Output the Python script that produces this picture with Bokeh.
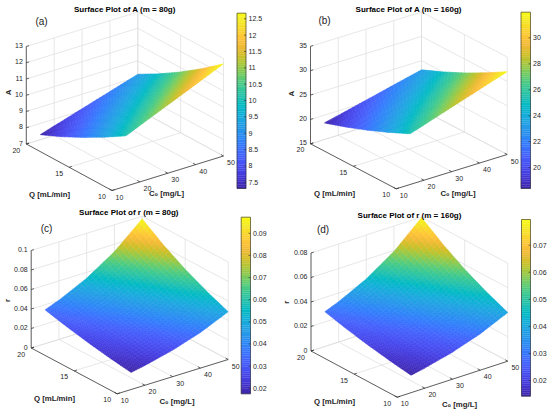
import numpy as np
from bokeh.plotting import figure
from bokeh.models import Range1d
from bokeh.embed import file_html
from bokeh.resources import INLINE
from bokeh.core.properties import value

# ---------------- data ----------------
C0_VALUES = [15, 20, 30, 40, 50]          # C0 [mg/L] grid
Q_VALUES = [10, 12.5, 15, 17.5, 20]        # Q [mL/min] grid

# rows follow Q_VALUES, columns follow C0_VALUES
A_M80 = [
    [10.10, 10.47, 11.20, 11.93, 12.67],
    [9.30, 9.64, 10.31, 10.98, 11.66],
    [8.57, 8.88, 9.50, 10.12, 10.74],
    [7.90, 8.19, 8.76, 9.34, 9.91],
    [7.31, 7.58, 8.11, 8.64, 9.17],
]
A_M160 = [
    [25.40, 26.34, 28.22, 30.10, 31.98],
    [23.38, 24.25, 25.98, 27.71, 29.44],
    [21.54, 22.34, 23.93, 25.52, 27.12],
    [19.87, 20.61, 22.08, 23.55, 25.02],
    [18.39, 19.07, 20.43, 21.79, 23.15],
]
R_M80 = [
    [0.01750, 0.02027, 0.02721, 0.03652, 0.04900],
    [0.02077, 0.02407, 0.03230, 0.04335, 0.05816],
    [0.02466, 0.02856, 0.03833, 0.05145, 0.06904],
    [0.02927, 0.03390, 0.04550, 0.06106, 0.08194],
    [0.03474, 0.04024, 0.05401, 0.07248, 0.09727],
]
R_M160 = [
    [0.01420, 0.01645, 0.02208, 0.02963, 0.03976],
    [0.01689, 0.01956, 0.02625, 0.03524, 0.04728],
    [0.02008, 0.02327, 0.03122, 0.04190, 0.05623],
    [0.02388, 0.02767, 0.03713, 0.04983, 0.06687],
    [0.02840, 0.03290, 0.04415, 0.05926, 0.07952],
]

C0_LIM = [10, 50]
Q_LIM = [10, 20]
C0_TICKS = [10, 20, 30, 40, 50]
Q_TICKS = [10, 15, 20]

Z_TICKS_A80 = [7, 8, 9, 10, 11, 12, 13]
Z_TICKS_A160 = [15, 20, 25, 30, 35]
Z_TICKS_R80 = [0, 0.02, 0.04, 0.06, 0.08, 0.1]
Z_TICKS_R160 = [0, 0.02, 0.04, 0.06, 0.08]

CB_TICKS_A80 = [7.5, 8, 8.5, 9, 9.5, 10, 10.5, 11, 11.5, 12, 12.5]
CB_TICKS_A160 = [20, 22, 24, 26, 28, 30]
CB_TICKS_R80 = [0.02, 0.03, 0.04, 0.05, 0.06, 0.07, 0.08, 0.09]
CB_TICKS_R160 = [0.02, 0.03, 0.04, 0.05, 0.06, 0.07]

TITLES = ["Surface Plot of A (m = 80g)", "Surface Plot of A (m = 160g)",
          "Surface Plot of r (m = 80g)", "Surface Plot of r (m = 160g)"]
PANEL_TAGS = ["(a)", "(b)", "(c)", "(d)"]
Z_NAMES = ["A", "A", "r", "r"]
Q_NAME = "Q [mL/min]"
C0_NAME = "C\u2080 [mg/L]"

# ---------------- parula colormap (original MATLAB version) ----------------
PARULA = [
    (0.2422, 0.1504, 0.6603), (0.2647, 0.1978, 0.7952), (0.2783, 0.2559, 0.8991),
    (0.2810, 0.3228, 0.9579), (0.2699, 0.3892, 0.9906), (0.2206, 0.4603, 0.9973),
    (0.1786, 0.5289, 0.9682), (0.1540, 0.5902, 0.9218), (0.1248, 0.6459, 0.8883),
    (0.0689, 0.6948, 0.8394), (0.0067, 0.7312, 0.7660), (0.1408, 0.7584, 0.6842),
    (0.2161, 0.7843, 0.5923), (0.3406, 0.8008, 0.4789), (0.5044, 0.7993, 0.3480),
    (0.6720, 0.7793, 0.2227), (0.8203, 0.7498, 0.1535), (0.9393, 0.7288, 0.2100),
    (0.9970, 0.7659, 0.2199), (0.9786, 0.8386, 0.1766), (0.9597, 0.9135, 0.1423),
    (0.9769, 0.9839, 0.0805),
]


def parula(t):
    t = min(max(float(t), 0.0), 1.0)
    pos = t * (len(PARULA) - 1)
    i = min(int(pos), len(PARULA) - 2)
    f = pos - i
    c = [PARULA[i][k] * (1 - f) + PARULA[i + 1][k] * f for k in range(3)]
    return "#%02x%02x%02x" % tuple(int(round(255 * x)) for x in c)


# ---------------- layout of the four panels (screen pixels) ----------------
PANELS = [
    dict(Z=A_M80, zlim=(7, 13), zt=Z_TICKS_A80, cbt=CB_TICKS_A80,
         F=(111.5, 190.0), L=(25.8, 143.5), R=(223.0, 155.5), H=97.5,
         cb=(236.5, 245.5, 12.7, 188.0), title_xy=(124.5, 8.5), tag_xy=(41, 21.3),
         zname_xy=(7.5, 92), qname_xy=(49, 193.7), cname_xy=(166, 193.0)),
    dict(Z=A_M160, zlim=(15, 35), zt=Z_TICKS_A160, cbt=CB_TICKS_A160,
         F=(395.7, 188.3), L=(310.0, 143.3), R=(506.7, 154.0), H=97.5,
         cb=(520.5, 530.0, 11.7, 188.0), title_xy=(408.3, 8.5), tag_xy=(324, 20.0),
         zname_xy=(290.7, 93.3), qname_xy=(334, 192.5), cname_xy=(457.5, 193.3)),
    dict(Z=R_M80, zlim=(0, 0.1), zt=Z_TICKS_R80, cbt=CB_TICKS_R80,
         F=(116.7, 393.3), L=(30.7, 347.5), R=(227.7, 359.0), H=97.5,
         cb=(240.7, 250.0, 216.7, 393.3), title_xy=(128.3, 212.3), tag_xy=(46, 228.0),
         zname_xy=(7.0, 300), qname_xy=(54, 398.0), cname_xy=(176.5, 401.0)),
    dict(Z=R_M160, zlim=(0, 0.08), zt=Z_TICKS_R160, cbt=CB_TICKS_R160,
         F=(396.7, 396.7), L=(310.5, 350.5), R=(507.3, 360.7), H=98.0,
         cb=(521.0, 530.0, 219.0, 395.7), title_xy=(409, 215.0), tag_xy=(322.5, 229.0),
         zname_xy=(286, 301.7), qname_xy=(334, 401.0), cname_xy=(459, 403.5)),
]

FONT = value("Liberation Sans")
AX_COL = "#262626"
GRID_COL = "#dcdcdc"
W, H_FIG = 549, 410

p = figure(width=W, height=H_FIG, x_range=Range1d(0, W), y_range=Range1d(H_FIG, 0),
           output_backend="svg", toolbar_location=None, x_axis_type=None,
           y_axis_type=None, min_border=0)
p.grid.visible = False
p.outline_line_color = None
p.background_fill_color = "white"
p.border_fill_color = "white"


def fmt(v):
    return f"{round(v, 6):g}"


for k, P in enumerate(PANELS):
    F, L, R, H = P["F"], P["L"], P["R"], P["H"]
    zlo, zhi = P["zlim"]
    ex = (R[0] - F[0], R[1] - F[1])
    ey = (L[0] - F[0], L[1] - F[1])

    def norm(c, q, z):
        return ((c - C0_LIM[0]) / (C0_LIM[1] - C0_LIM[0]),
                (q - Q_LIM[0]) / (Q_LIM[1] - Q_LIM[0]),
                (z - zlo) / (zhi - zlo))

    def proj(c, q, z):
        u, v, w = norm(c, q, z)
        return (F[0] + u * ex[0] + v * ey[0], F[1] + u * ex[1] + v * ey[1] - w * H)

    # ---- grid lines on floor and back walls ----
    gx, gy = [], []
    def seg(a, b):
        pa, pb = proj(*a), proj(*b)
        gx.append([pa[0], pb[0]]); gy.append([pa[1], pb[1]])
    for c in C0_TICKS:
        seg((c, Q_LIM[0], zlo), (c, Q_LIM[1], zlo))          # floor
        seg((c, Q_LIM[1], zlo), (c, Q_LIM[1], zhi))          # back wall Q=max
    for q in Q_TICKS:
        seg((C0_LIM[0], q, zlo), (C0_LIM[1], q, zlo))        # floor
        seg((C0_LIM[1], q, zlo), (C0_LIM[1], q, zhi))        # back wall C0=max
    for z in P["zt"]:
        seg((C0_LIM[0], Q_LIM[1], z), (C0_LIM[1], Q_LIM[1], z))
        seg((C0_LIM[1], Q_LIM[0], z), (C0_LIM[1], Q_LIM[1], z))
    p.multi_line(gx, gy, line_color=GRID_COL, line_width=0.7)

    # ---- surface ----
    Z = np.array(P["Z"], dtype=float)
    Cv = np.array(C0_VALUES, dtype=float)
    Qv = np.array(Q_VALUES, dtype=float)
    vmin, vmax = Z.min(), Z.max()
    n = 8
    polys = []
    for i in range(len(Qv) - 1):
        for j in range(len(Cv) - 1):
            z00, z01, z10, z11 = Z[i, j], Z[i, j + 1], Z[i + 1, j], Z[i + 1, j + 1]
            for a in range(n):
                for b in range(n):
                    xs, ys, zs, us, vs, ws = [], [], [], [], [], []
                    for s, t in ((b / n, a / n), ((b + 1) / n, a / n),
                                 ((b + 1) / n, (a + 1) / n), (b / n, (a + 1) / n)):
                        c = Cv[j] + s * (Cv[j + 1] - Cv[j])
                        q = Qv[i] + t * (Qv[i + 1] - Qv[i])
                        z = ((1 - s) * (1 - t) * z00 + s * (1 - t) * z01
                             + (1 - s) * t * z10 + s * t * z11)
                        X, Y = proj(c, q, z)
                        u, v, w = norm(c, q, z)
                        xs.append(X); ys.append(Y); zs.append(z)
                        us.append(u); vs.append(v); ws.append(w)
                    near = -0.527 * np.mean(us) - 0.687 * np.mean(vs) + 0.5 * np.mean(ws)
                    col = parula((np.mean(zs) - vmin) / (vmax - vmin))
                    polys.append((near, xs, ys, col))
    polys.sort(key=lambda r: r[0])
    p.patches([r[1] for r in polys], [r[2] for r in polys],
              fill_color=[r[3] for r in polys], line_color=[r[3] for r in polys],
              line_width=0.5)

    # ---- axis lines ----
    ax_x, ax_y = [], []
    def aseg(a, b):
        pa, pb = proj(*a), proj(*b)
        ax_x.append([pa[0], pb[0]]); ax_y.append([pa[1], pb[1]])
    aseg((C0_LIM[0], Q_LIM[0], zlo), (C0_LIM[1], Q_LIM[0], zlo))
    aseg((C0_LIM[0], Q_LIM[0], zlo), (C0_LIM[0], Q_LIM[1], zlo))
    aseg((C0_LIM[0], Q_LIM[1], zlo), (C0_LIM[0], Q_LIM[1], zhi))
    # ticks
    dc = 0.025 * (C0_LIM[1] - C0_LIM[0])
    dq = 0.03 * (Q_LIM[1] - Q_LIM[0])
    for c in C0_TICKS:
        aseg((c, Q_LIM[0], zlo), (c, Q_LIM[0] + dq, zlo))
    for q in Q_TICKS:
        aseg((C0_LIM[0], q, zlo), (C0_LIM[0] + dc, q, zlo))
    for z in P["zt"]:
        aseg((C0_LIM[0], Q_LIM[1], z), (C0_LIM[0] + dc, Q_LIM[1], z))
    p.multi_line(ax_x, ax_y, line_color=AX_COL, line_width=0.7)

    # ---- tick labels ----
    tx, ty, tt = [], [], []
    for z in P["zt"]:
        X, Y = proj(C0_LIM[0], Q_LIM[1], z)
        tx.append(X - 3.5); ty.append(Y - 1.0); tt.append(fmt(z))
    p.text(tx, ty, text=tt, text_font=FONT, text_font_size="7px", text_color=AX_COL,
           text_align="right", text_baseline="middle")
    tx, ty, tt = [], [], []
    for q in Q_TICKS:
        X, Y = proj(C0_LIM[0], q, zlo)
        tx.append(X - 10.0); ty.append(Y + 6.0); tt.append(fmt(q))
    for c in C0_TICKS:
        X, Y = proj(c, Q_LIM[0], zlo)
        tx.append(X + 7.5); ty.append(Y + 6.5); tt.append(fmt(c))
    p.text(tx, ty, text=tt, text_font=FONT, text_font_size="7px", text_color=AX_COL,
           text_align="center", text_baseline="middle")

    # ---- axis names ----
    p.text([P["qname_xy"][0], P["cname_xy"][0]], [P["qname_xy"][1], P["cname_xy"][1]],
           text=[Q_NAME, C0_NAME], text_font=FONT, text_font_size="7.8px",
           text_font_style="bold", text_color=AX_COL, text_align="center",
           text_baseline="middle")
    p.text([P["zname_xy"][0]], [P["zname_xy"][1]], text=[Z_NAMES[k]], angle=np.pi / 2,
           text_font=FONT, text_font_size="7.8px", text_font_style="bold",
           text_color=AX_COL, text_align="center", text_baseline="middle")

    # ---- title and panel tag ----
    p.text([P["title_xy"][0]], [P["title_xy"][1]], text=[TITLES[k]], text_font=FONT,
           text_font_size="8px", text_font_style="bold", text_color="black",
           text_align="center", text_baseline="middle")
    p.text([P["tag_xy"][0]], [P["tag_xy"][1]], text=[PANEL_TAGS[k]], text_font=FONT,
           text_font_size="10px", text_color="#222222", text_align="center",
           text_baseline="middle")

    # ---- colorbar ----
    x0, x1, yt, yb = P["cb"]
    nseg = 96
    edges = np.linspace(yb, yt, nseg + 1)
    cols = [parula((m + 0.5) / nseg) for m in range(nseg)]
    p.quad(left=x0, right=x1, bottom=edges[:-1], top=edges[1:], fill_color=cols,
           line_color=cols, line_width=0.3)
    p.quad(left=[x0], right=[x1], bottom=[yb], top=[yt], fill_color=None,
           line_color=AX_COL, line_width=0.6)
    cx, cy, ct, kx, ky = [], [], [], [], []
    for tv in P["cbt"]:
        Y = yb - (tv - vmin) / (vmax - vmin) * (yb - yt)
        cx.append(x1 + 2.5); cy.append(Y); ct.append(fmt(tv))
        kx.append([x1 - 2.0, x1]); ky.append([Y, Y])
    p.multi_line(kx, ky, line_color=AX_COL, line_width=0.6)
    p.text(cx, cy, text=ct, text_font=FONT, text_font_size="7px", text_color=AX_COL,
           text_align="left", text_baseline="middle")

open("out.html", "w").write(file_html(p, INLINE))
